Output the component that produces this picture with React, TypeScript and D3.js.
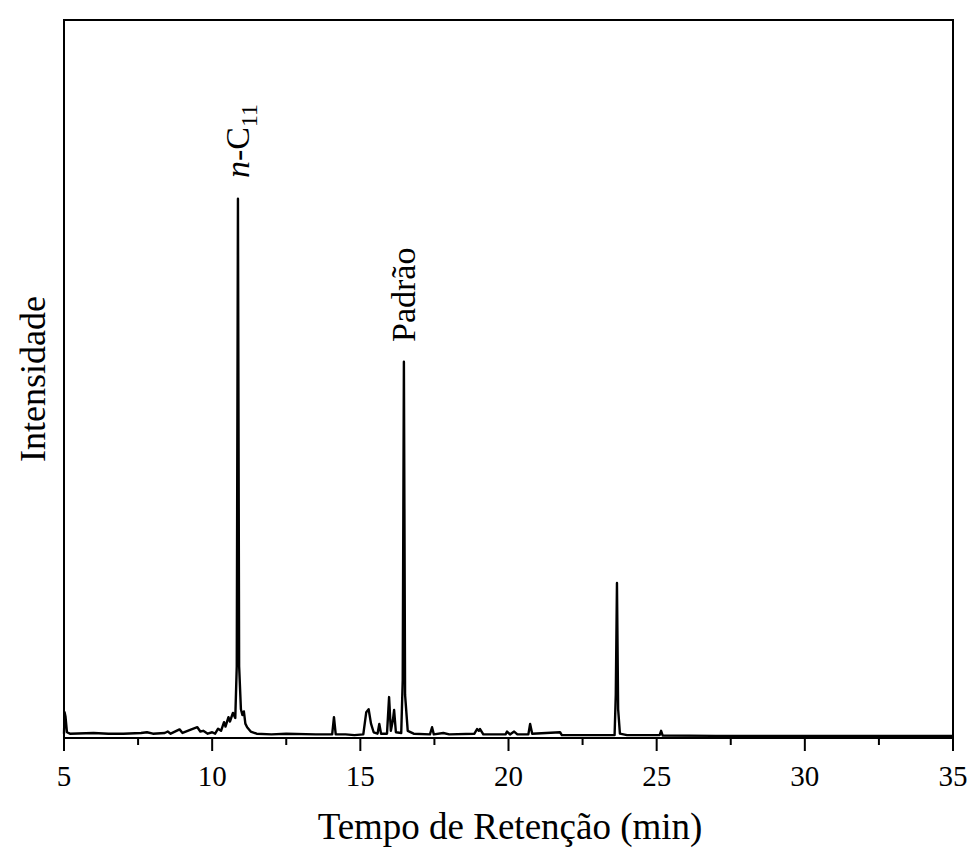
import React from 'react';
import * as d3 from 'd3';

// retention time (min) and detector intensity (a.u.)
const retentionTime = [
  5.0, 5.02, 5.05, 5.1, 5.2, 6.0, 6.5, 7.0, 7.6, 7.8, 8.0, 8.4, 8.5, 8.6, 8.9, 9.0,
  9.3, 9.5, 9.6, 9.7, 9.85, 10.0, 10.1, 10.2, 10.3, 10.4, 10.45, 10.55, 10.6, 10.7,
  10.78, 10.83, 10.87, 10.91, 10.97, 11.02, 11.07, 11.12, 11.18, 11.3, 11.5, 12.0,
  12.5, 13.5, 14.05, 14.11, 14.17, 14.5, 14.8, 15.1, 15.2, 15.28, 15.36, 15.45,
  15.58, 15.64, 15.7, 15.9, 15.97, 16.03, 16.1, 16.14, 16.2, 16.38, 16.43, 16.47,
  16.51, 16.6, 16.8, 17.35, 17.42, 17.48, 17.8, 18.0, 18.85, 18.94, 19.0, 19.04,
  19.15, 19.9, 19.95, 20.05, 20.19, 20.3, 20.67, 20.73, 20.8, 21.74, 21.8, 22.5,
  23.58, 23.62, 23.66, 23.7, 23.76, 24.0, 25.1, 25.15, 25.2, 27.0, 30.0, 33.0, 35.0,
];
const intensity = [
  0.6, 3.6, 3.0, 0.8, 0.6, 0.7, 0.6, 0.6, 0.7, 0.8, 0.6, 0.7, 0.9, 0.6, 1.2, 0.7,
  1.2, 1.5, 0.9, 1.0, 0.6, 0.8, 0.6, 1.3, 1.0, 2.2, 1.6, 2.9, 2.3, 3.5,
  2.8, 10.0, 75.1, 10.0, 4.0, 3.2, 3.7, 2.0, 1.5, 0.9, 0.6, 0.5,
  0.6, 0.5, 0.5, 2.9, 0.5, 0.5, 0.4, 0.5, 3.6, 4.0, 2.0, 0.8,
  0.6, 1.95, 0.6, 0.6, 5.7, 1.0, 2.5, 3.9, 0.8, 0.7, 8.0, 52.4,
  6.0, 1.0, 0.6, 0.5, 1.5, 0.5, 0.7, 0.5, 0.6, 1.25, 1.0, 1.25,
  0.5, 0.5, 0.9, 0.5, 0.9, 0.5, 0.5, 1.95, 0.6, 0.8, 0.4, 0.4,
  0.4, 6.0, 21.6, 4.0, 0.6, 0.4, 0.4, 1.0, 0.35, 0.3, 0.3, 0.3, 0.3,
];

const majorTicks = [5, 10, 15, 20, 25, 30, 35];
const minorTicks = [7.5, 12.5, 17.5, 22.5, 27.5, 32.5];

const W = 972;
const H = 849;
const margin = { left: 64, right: 19, top: 20, bottom: 111 };
const font = '"Liberation Serif", "Times New Roman", serif';

export default function App() {
  const x = d3.scaleLinear().domain([5, 35]).range([margin.left, W - margin.right]);
  const y = d3.scaleLinear().domain([0, 100]).range([H - margin.bottom, margin.top]);
  const pts: [number, number][] = retentionTime.map((t, i) => [t, intensity[i]]);
  const line = d3.line<[number, number]>().x(d => x(d[0])).y(d => y(d[1]));
  const bottom = H - margin.bottom;

  return (
    <svg width={W} height={H} style={{ position: 'absolute', left: 0, top: 0, background: '#fff' }}>
      <rect x={0} y={0} width={W} height={H} fill="#fff" />
      <path d={line(pts) || ''} fill="none" stroke="#000" strokeWidth={2.4} strokeLinejoin="round" />
      <rect x={margin.left} y={margin.top} width={W - margin.left - margin.right} height={bottom - margin.top}
        fill="none" stroke="#000" strokeWidth={2} />
      {majorTicks.map(t => (
        <g key={t}>
          <line x1={x(t)} x2={x(t)} y1={bottom} y2={bottom + 13} stroke="#000" strokeWidth={2} />
          <text x={x(t)} y={786} textAnchor="middle" fontFamily={font} fontSize={29}>{t}</text>
        </g>
      ))}
      {minorTicks.map(t => (
        <line key={t} x1={x(t)} x2={x(t)} y1={bottom} y2={bottom + 7} stroke="#000" strokeWidth={2} />
      ))}
      <text x={510} y={839} textAnchor="middle" fontFamily={font} fontSize={37}>
        Tempo de Retenção (min)
      </text>
      <text transform={`translate(45,${(margin.top + bottom) / 2}) rotate(-90)`} textAnchor="middle"
        fontFamily={font} fontSize={36}>Intensidade</text>
      <text transform={`translate(249,178) rotate(-90)`} fontFamily={font} fontSize={34}>
        <tspan fontStyle="italic">n</tspan>-C<tspan fontSize={24} dy={8}>11</tspan>
      </text>
      <text transform={`translate(415,342) rotate(-90)`} fontFamily={font} fontSize={34}>Padrão</text>
    </svg>
  );
}
